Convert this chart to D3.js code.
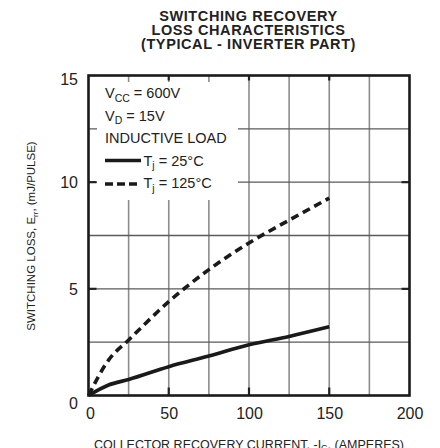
<!DOCTYPE html>
<html><head><meta charset="utf-8">
<script src="https://cdn.jsdelivr.net/npm/d3@7/dist/d3.min.js"></script>
<style>
body{margin:0;background:#fff;}
svg{display:block;font-family:"Liberation Sans",Arial,sans-serif;}
</style></head>
<body><svg id="c" width="440" height="448"></svg>
<script>
const titleLines = ["SWITCHING RECOVERY","LOSS CHARACTERISTICS","(TYPICAL - INVERTER PART)"];
const xTicks = [0,50,100,150,200];
const yTicks = [0,5,10,15];
const xGrid = [25,50,75,100,125,150,175];
const yGrid = [2.5,5,7.5,10,12.5];
const current = [0,12.5,25,50,75,100,125,150];
const loss25 = [0,0.49,0.75,1.35,1.85,2.38,2.77,3.22];
const loss125 = [0,1.66,2.6,4.4,5.9,7.15,8.22,9.25];

const svg = d3.select("#c");
const L=88.5,R=409.5,T=75.5,B=395.5;
const x = d3.scaleLinear().domain([0,200]).range([L,R]);
const y = d3.scaleLinear().domain([0,15]).range([B,T]);

// title
svg.append("g").selectAll("text").data(titleLines).join("text")
  .attr("x",248.5).attr("y",(d,i)=>21+i*13.8).attr("text-anchor","middle")
  .attr("font-weight","bold").attr("font-size",14.5).attr("letter-spacing",0.6)
  .attr("fill","#222").text(d=>d);

// grid
svg.append("g").selectAll("line").data(xGrid).join("line")
  .attr("x1",d=>x(d)).attr("x2",d=>x(d)).attr("y1",T).attr("y2",B)
  .attr("stroke","#8c8c8c").attr("stroke-width",1.6);
svg.append("g").selectAll("line").data(yGrid).join("line")
  .attr("x1",L).attr("x2",R).attr("y1",d=>y(d)).attr("y2",d=>y(d))
  .attr("stroke","#5a5a5a").attr("stroke-width",1.4);

// legend backing
svg.append("rect").attr("x",97).attr("y",82).attr("width",141).attr("height",118).attr("fill","#fff");

// major ticks inside
const tg = svg.append("g").attr("stroke","#222").attr("stroke-width",2.2);
[50,100,150].forEach(v=>{
  tg.append("line").attr("x1",x(v)).attr("x2",x(v)).attr("y1",B).attr("y2",B-8);
  tg.append("line").attr("x1",x(v)).attr("x2",x(v)).attr("y1",T).attr("y2",T+5);
});
[5,10].forEach(v=>{
  tg.append("line").attr("x1",L).attr("x2",L+8).attr("y1",y(v)).attr("y2",y(v));
  tg.append("line").attr("x1",R).attr("x2",R-8).attr("y1",y(v)).attr("y2",y(v));
});

// frame
svg.append("rect").attr("x",L).attr("y",T).attr("width",R-L).attr("height",B-T)
  .attr("fill","none").attr("stroke","#1a1a1a").attr("stroke-width",2.6);

// curves
const line = d3.line().x((d,i)=>x(current[i])).y(d=>y(d)).curve(d3.curveMonotoneX);
svg.append("path").attr("d",line(loss25)).attr("fill","none").attr("stroke","#1a1a1a").attr("stroke-width",3.6);
svg.append("path").attr("d",line(loss125)).attr("fill","none").attr("stroke","#1a1a1a").attr("stroke-width",3.6).attr("stroke-dasharray","8,5");

// axes labels
const ax = svg.append("g").attr("transform",`translate(0,${B})`)
  .call(d3.axisBottom(x).tickValues(xTicks).tickSize(0).tickPadding(12).tickFormat(d3.format("d")));
ax.select(".domain").remove();
ax.selectAll("text").attr("font-size",16).attr("fill","#222").attr("font-family","Liberation Sans, Arial, sans-serif")
  .attr("dx",d=>d===0?1.5:0);
const ay = svg.append("g").attr("transform",`translate(${L},0)`)
  .call(d3.axisLeft(y).tickValues(yTicks).tickSize(0).tickPadding(10.5));
ay.select(".domain").remove();
ay.selectAll("text").attr("font-size",16).attr("fill","#222").attr("font-family","Liberation Sans, Arial, sans-serif")
  .attr("dy",d=>d===0?"0.8em":(d===15?"0.55em":"0.35em"));

// legend
const lg = svg.append("g").attr("font-size",14.5).attr("fill","#222");
function sub(main,s,rest,xx,yy){
  const te = lg.append("text").attr("x",xx).attr("y",yy);
  te.append("tspan").text(main);
  te.append("tspan").attr("font-size",10.5).attr("dy",3.5).text(s);
  te.append("tspan").attr("dy",-3.5).text(rest);
}
sub("V","CC"," = 600V",105,98);
sub("V","D"," = 15V",105,120.5);
lg.append("text").attr("x",105).attr("y",143).text("INDUCTIVE LOAD");
lg.append("line").attr("x1",105).attr("x2",141).attr("y1",160.5).attr("y2",160.5).attr("stroke","#1a1a1a").attr("stroke-width",3.6);
sub("T","j"," = 25°C",143.5,165.5);
lg.append("line").attr("x1",105).attr("x2",141).attr("y1",184).attr("y2",184).attr("stroke","#1a1a1a").attr("stroke-width",3.6).attr("stroke-dasharray","8,4");
sub("T","j"," = 125°C",143.5,188);

// axis titles
const xt = svg.append("text").attr("x",249).attr("y",448.5).attr("text-anchor","middle").attr("font-size",12.5).attr("fill","#222");
xt.append("tspan").text("COLLECTOR RECOVERY CURRENT, -I");
xt.append("tspan").attr("font-size",9).attr("dy",2.5).text("C");
xt.append("tspan").attr("dy",-2.5).text(", (AMPERES)");
const yt = svg.append("text").attr("transform","translate(35,236) rotate(-90)").attr("text-anchor","middle").attr("font-size",11.5).attr("fill","#222");
yt.append("tspan").text("SWITCHING LOSS, E");
yt.append("tspan").attr("font-size",8).attr("dy",2.5).text("rr");
yt.append("tspan").attr("dy",-2.5).text(", (mJ/PULSE)");
</script></body></html>
